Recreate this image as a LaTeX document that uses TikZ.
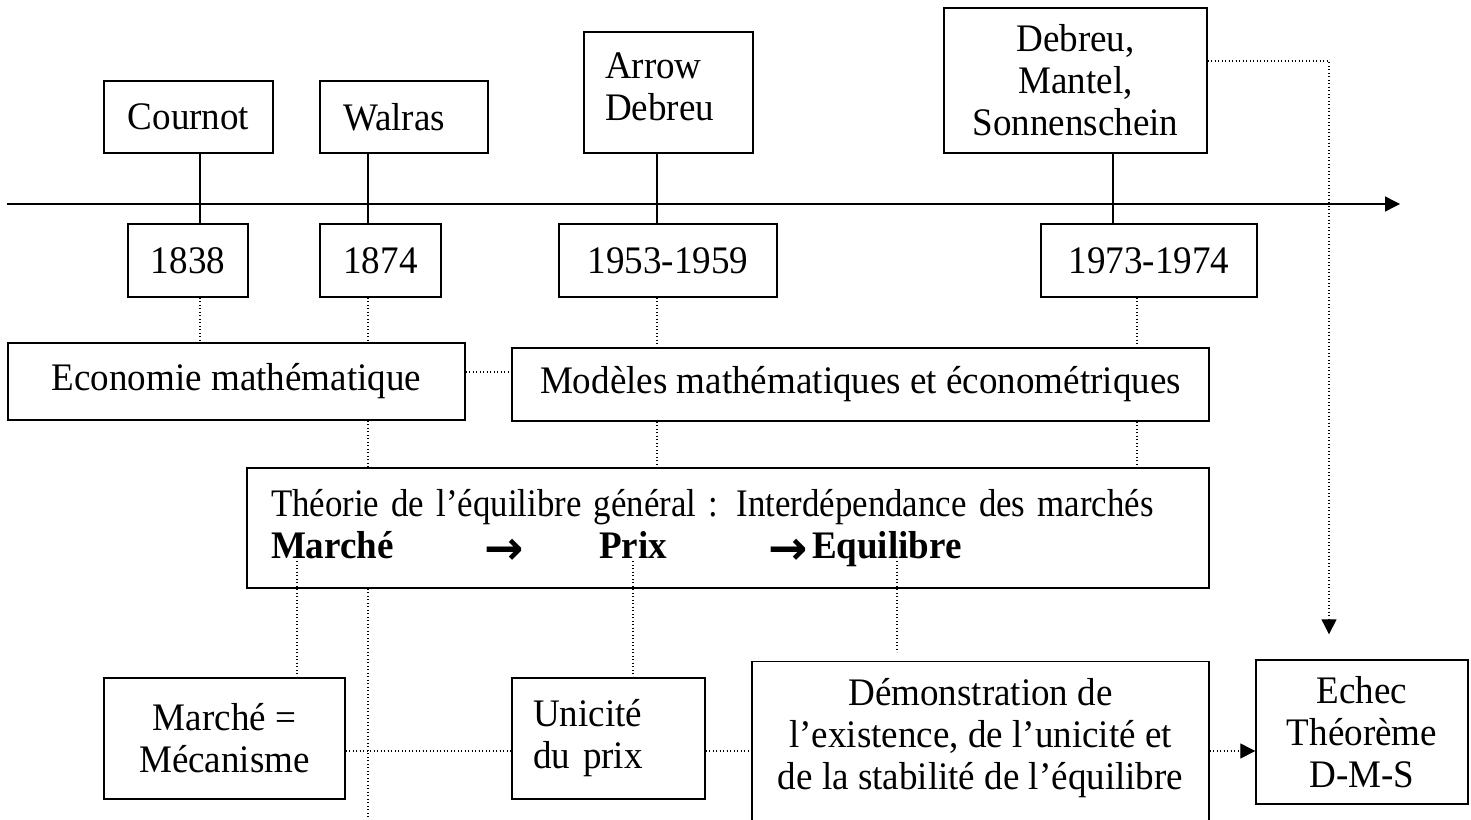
\documentclass[tikz,border=0pt]{standalone}
\usepackage{graphicx}
\usepackage{fontspec}
\setmainfont{Liberation Serif}[FakeStretch=0.95]
\newfontfamily\arrowfont{DejaVu Sans}
\usetikzlibrary{arrows.meta}
\newcommand{\flowarrow}{\raisebox{-6pt}{\fontsize{47}{42}\selectfont\arrowfont\bfseries →}}
\begin{document}
\begin{tikzpicture}[x=1pt,y=-1pt,
  every node/.style={font=\fontsize{39}{42}\selectfont},
  box/.style={draw, line width=1.4pt, rectangle, inner sep=0pt, align=center},
  solidlink/.style={line width=1.4pt},
  dotlink/.style={line width=1.2pt, dash pattern=on 1.2pt off 2.3pt},
  tip/.style={-{Triangle[length=15pt,width=15pt]}},
]
\path[use as bounding box] (0,0) rectangle (1471,819);
\clip (0,0) rectangle (1471,819);

% column and row positions of the connectors
\coordinate (xa) at (200,0);
\coordinate (xb) at (368,0);
\coordinate (xc) at (657,0);
\coordinate (xd) at (1113,0);
\coordinate (xe) at (1137,0);
\coordinate (xf) at (297,0);
\coordinate (xg) at (633,0);
\coordinate (xh) at (897,0);
\coordinate (xr) at (1329,0);
\coordinate (ydms) at (0,61);
\coordinate (ymod) at (0,372);
\coordinate (ytext) at (0,561);
\coordinate (ylink) at (0,751);
\coordinate (ybottom) at (0,825);

% time axis
\coordinate (axL) at (7,204);
\coordinate (axR) at (1400,204);
\draw[solidlink, tip] (axL) -- (axR);

% authors
\node[box, minimum width=169pt, minimum height=72pt] (cournot) at (188.5,117) {Cournot};
\node[box, minimum width=168pt, minimum height=72pt, text width=122pt, align=left] (walras) at (404,117) {Walras};
\node[box, minimum width=169pt, minimum height=121pt, text width=127pt, align=left] (arrowdeb) at (668.5,92.5) {Arrow\\Debreu\\[-30pt]\mbox{}};
\node[box, minimum width=263pt, minimum height=145pt] (dms) at (1075.5,80.5) {Debreu,\\Mantel,\\Sonnenschein};

% dates
\node[box, minimum width=120pt, minimum height=73pt] (y1838) at (188,260.5) {1838};
\node[box, minimum width=121pt, minimum height=73pt] (y1874) at (380.5,260.5) {1874};
\node[box, minimum width=218pt, minimum height=73pt] (y1953) at (668,260.5) {1953-1959};
\node[box, minimum width=216pt, minimum height=73pt] (y1973) at (1149,260.5) {1973-1974};

% fields
\node[box, minimum width=457pt, minimum height=77pt] (econ) at (236.5,381.5) {Economie mathématique};
\node[box, minimum width=697pt, minimum height=73pt] (modeles) at (860.5,384.5) {Modèles mathématiques et économétriques};

% general equilibrium
\node[box, minimum width=962pt, minimum height=120pt, text width=914pt, align=left] (theorie) at (728,528)
  {\scalebox{0.94}[1]{Théorie de l’équilibre général : Interdépendance des marchés}\\
   \makebox[213pt][l]{\textbf{Marché}}\makebox[115pt][l]{\flowarrow}\makebox[169pt][l]{\textbf{Prix}}\makebox[44pt][l]{\flowarrow}\textbf{Equilibre}};

% results
\node[box, minimum width=241pt, minimum height=121pt] (marche) at (224.5,738.5) {Marché =\\Mécanisme};
\node[box, minimum width=193pt, minimum height=121pt, text width=151pt, align=left] (unicite) at (608.5,738.5) {Unicité\\du prix};
\node[box, minimum width=457pt, inner ysep=17pt, anchor=north] (demo) at (980.5,661)
  {Démonstration de\\l’existence, de l’unicité et\\de la stabilité de l’équilibre\\[40pt]\mbox{}};
\node[box, minimum width=212pt, minimum height=144pt] (echec) at (1362,732) {Echec\\Théorème\\D-M-S};

% solid ties between authors and dates
\draw[solidlink] (cournot.south -| xa) -- (y1838.north -| xa);
\draw[solidlink] (walras.south -| xb) -- (y1874.north -| xb);
\draw[solidlink] (arrowdeb.south -| xc) -- (y1953.north -| xc);
\draw[solidlink] (dms.south -| xd) -- (y1973.north -| xd);

% dotted ties
\draw[dotlink] (y1838.south -| xa) -- (econ.north -| xa);
\draw[dotlink] (y1874.south -| xb) -- (econ.north -| xb);
\draw[dotlink] (y1953.south -| xc) -- (modeles.north -| xc);
\draw[dotlink] (y1973.south -| xe) -- (modeles.north -| xe);
\draw[dotlink] (econ.east |- ymod) -- (modeles.west |- ymod);
\draw[dotlink] (econ.south -| xb) -- (theorie.north -| xb);
\draw[dotlink] (modeles.south -| xc) -- (theorie.north -| xc);
\draw[dotlink] (modeles.south -| xe) -- (theorie.north -| xe);
\draw[dotlink] (xf |- ytext) -- (marche.north -| xf);
\draw[dotlink] (theorie.south -| xb) -- (xb |- ybottom);
\draw[dotlink] (xg |- ytext) -- (unicite.north -| xg);
\draw[dotlink, shorten >=9pt] (xh |- ytext) -- (demo.north -| xh);
\draw[dotlink] (marche.east |- ylink) -- (unicite.west |- ylink);
\draw[dotlink] (unicite.east |- ylink) -- (demo.west |- ylink);
\draw[dotlink, tip] (demo.east |- ylink) -- (echec.west |- ylink);
\draw[dotlink, tip, shorten >=25pt] (dms.east |- ydms) -- (xr |- ydms) -- (xr |- echec.north);
\end{tikzpicture}
\end{document}
